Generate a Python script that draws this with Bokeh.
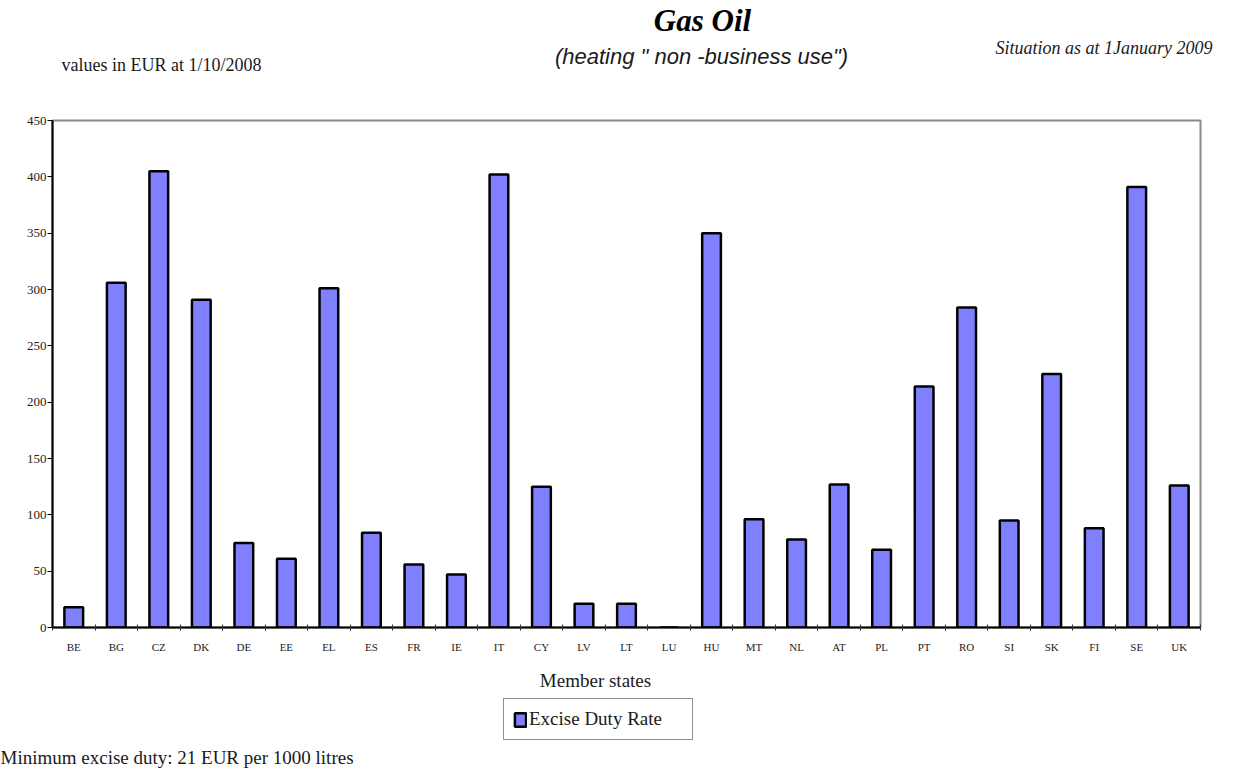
from bokeh.plotting import figure
from bokeh.layouts import column
from bokeh.models import ColumnDataSource, FixedTicker, Legend, LegendItem, Range1d
from bokeh.core.properties import value
from bokeh.embed import file_html
from bokeh.resources import INLINE

states = ["BE", "BG", "CZ", "DK", "DE", "EE", "EL", "ES", "FR", "IE", "IT", "CY", "LV", "LT",
          "LU", "HU", "MT", "NL", "AT", "PL", "PT", "RO", "SI", "SK", "FI", "SE", "UK"]
rates = [18, 306, 405, 291, 75, 61, 301, 84, 56, 47, 402, 125, 21, 21,
         0, 350, 96, 78, 127, 69, 214, 284, 95, 225, 88, 391, 126]
y_ticks = [0, 50, 100, 150, 200, 250, 300, 350, 400, 450]
series_name = "Excise Duty Rate"

SERIF = "Liberation Serif"
SANS = "Liberation Sans"
W = 1221
FILL = "#8080FF"


def text_panel(h):
    f = figure(width=W, height=h, output_backend="svg", toolbar_location=None,
               x_range=Range1d(0, W), y_range=Range1d(h, 0),
               x_axis_type=None, y_axis_type=None,
               min_border=0, min_border_left=0, min_border_right=0,
               min_border_top=0, min_border_bottom=0)
    f.frame_align = False
    f.outline_line_color = None
    f.xgrid.visible = False
    f.ygrid.visible = False
    f.background_fill_color = "white"
    f.border_fill_color = "white"
    return f


def put(f, x, y, t, font=SERIF, size="14px", style="normal", align="left", color="#1a1a1a"):
    f.text(x=[x], y=[y], text=[t], text_font=value(font), text_font_size=value(size),
           text_font_style=style, text_align=align, text_baseline="middle", text_color=color)


# ---------- header ----------
HEAD_H = 108
head = text_panel(HEAD_H)
put(head, 702, 20, "Gas Oil", size="31px", style="bold italic", align="center", color="black")
put(head, 701, 56, '(heating " non -business use")', font=SANS, size="22px", style="italic", align="center")
put(head, 61, 64, "values in EUR at 1/10/2008", size="18px")
put(head, 1212, 47, "Situation as at 1January 2009", size="18px", style="italic", align="right")

# ---------- main chart ----------
idx = list(range(len(states)))
src = ColumnDataSource(dict(x=idx, top=rates, state=states))

MAIN_H = 549
p = figure(width=W, height=MAIN_H, output_backend="svg", toolbar_location=None,
           x_range=Range1d(-0.5, len(states) - 0.5), y_range=Range1d(0, 450),
           min_border_left=52, min_border_right=21, min_border_top=12, min_border_bottom=30)
p.frame_align = False
p.background_fill_color = "white"
p.border_fill_color = "white"
p.outline_line_color = "#8a8a8a"
p.outline_line_width = 2
p.xgrid.visible = False
p.ygrid.visible = False

r = p.vbar(x="x", top="top", width=0.44, bottom=0, source=src,
           fill_color=FILL, line_color="black", line_width=2.5)

p.yaxis.ticker = FixedTicker(ticks=y_ticks)
p.yaxis.axis_line_color = "black"
p.yaxis.axis_line_width = 2
p.yaxis.major_tick_out = 5
p.yaxis.major_tick_in = 0
p.yaxis.minor_tick_line_color = None
p.yaxis.major_label_text_font = SERIF
p.yaxis.major_label_text_font_size = "13px"
p.yaxis.major_label_text_color = "#222222"
p.yaxis.major_label_standoff = 1

p.xaxis.ticker = FixedTicker(ticks=idx, minor_ticks=[i - 0.5 for i in range(len(states) + 1)])
p.xaxis.major_label_overrides = {i: s for i, s in enumerate(states)}
p.xaxis.axis_line_color = "black"
p.xaxis.axis_line_width = 2
p.xaxis.major_tick_line_color = None
p.xaxis.minor_tick_in = 3
p.xaxis.minor_tick_out = 3
p.xaxis.minor_tick_line_color = "#333333"
p.xaxis.major_label_text_font = SERIF
p.xaxis.major_label_text_font_size = "11px"
p.xaxis.major_label_text_color = "#222222"
p.xaxis.major_label_standoff = 7

# ---------- footer ----------
FOOT_H = 112
foot = text_panel(FOOT_H)
put(foot, 595, 23, "Member states", size="19px", align="center")
put(foot, 0, 100, "Minimum excise duty: 21 EUR per 1000 litres", size="19px")
key = foot.vbar(x=[0], top=[float("nan")], width=1, fill_color=FILL, line_color="black", line_width=2.5)
legend = Legend(items=[LegendItem(label=series_name, renderers=[key])],
                location=(503, FOOT_H - 83), orientation="vertical",
                label_text_font=SERIF, label_text_font_size="19px", label_text_color="#1a1a1a",
                border_line_color="#222222", border_line_width=1, background_fill_alpha=1,
                glyph_width=14, glyph_height=17, label_standoff=2, label_width=154,
                label_height=18, padding=9, margin=0, spacing=0)
foot.add_layout(legend)

layout = column(head, p, foot, spacing=0)
open("out.html", "w").write(file_html(layout, INLINE))
